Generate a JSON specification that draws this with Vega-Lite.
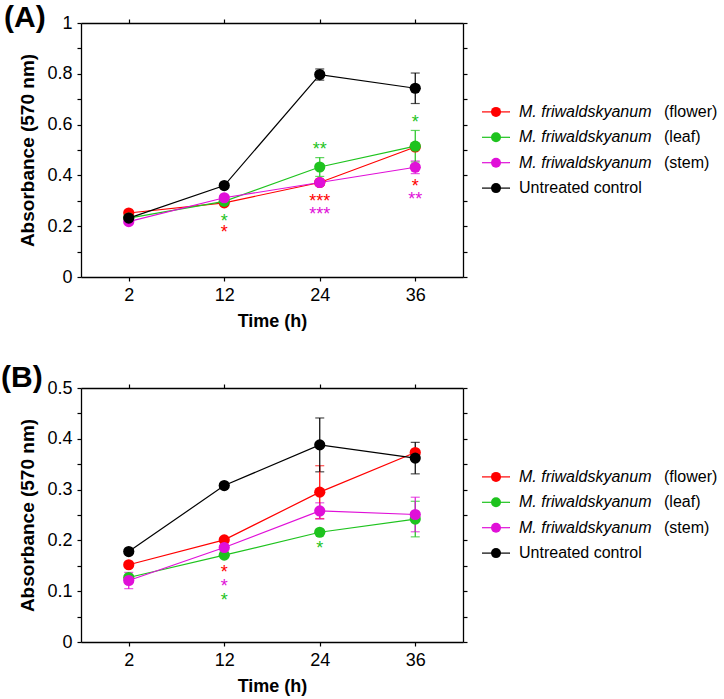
{
  "$schema": "https://vega.github.io/schema/vega-lite/v6.json",
  "padding": {"left": 0, "top": 3, "right": 0, "bottom": 4},
  "background": "white",
  "config": {
    "view": {"stroke": null},
    "font": "Liberation Sans",
    "axis": {
      "domainColor": "black", "domainWidth": 1.3,
      "tickColor": "black", "tickWidth": 1.2, "tickSize": 4,
      "labelFont": "Liberation Sans", "labelFontSize": 18, "labelColor": "black", "labelPadding": 5,
      "titleFont": "Liberation Sans", "titleFontSize": 18, "titleFontWeight": "bold", "titleColor": "black",
      "grid": false
    },
    "title": {"font": "Liberation Sans", "fontSize": 30, "fontWeight": "bold", "color": "black"}
  },
  "datasets": {
    "a": [
      {"time": 2, "series": "flower", "value": 0.252, "err": 0},
      {"time": 12, "series": "flower", "value": 0.292, "err": 0},
      {"time": 24, "series": "flower", "value": 0.372, "err": 0.01},
      {"time": 36, "series": "flower", "value": 0.512, "err": 0},
      {"time": 2, "series": "leaf", "value": 0.232, "err": 0},
      {"time": 12, "series": "leaf", "value": 0.298, "err": 0.01},
      {"time": 24, "series": "leaf", "value": 0.433, "err": 0.037},
      {"time": 36, "series": "leaf", "value": 0.515, "err": 0.062},
      {"time": 2, "series": "stem", "value": 0.218, "err": 0},
      {"time": 12, "series": "stem", "value": 0.312, "err": 0},
      {"time": 24, "series": "stem", "value": 0.372, "err": 0.01},
      {"time": 36, "series": "stem", "value": 0.432, "err": 0.025},
      {"time": 2, "series": "control", "value": 0.232, "err": 0},
      {"time": 12, "series": "control", "value": 0.36, "err": 0},
      {"time": 24, "series": "control", "value": 0.797, "err": 0.022},
      {"time": 36, "series": "control", "value": 0.743, "err": 0.06}
    ],
    "b": [
      {"time": 2, "series": "flower", "value": 0.152, "err": 0},
      {"time": 12, "series": "flower", "value": 0.201, "err": 0},
      {"time": 24, "series": "flower", "value": 0.295, "err": 0.052},
      {"time": 36, "series": "flower", "value": 0.373, "err": 0},
      {"time": 2, "series": "leaf", "value": 0.127, "err": 0},
      {"time": 12, "series": "leaf", "value": 0.171, "err": 0},
      {"time": 24, "series": "leaf", "value": 0.216, "err": 0},
      {"time": 36, "series": "leaf", "value": 0.242, "err": 0.035},
      {"time": 2, "series": "stem", "value": 0.121, "err": 0.016},
      {"time": 12, "series": "stem", "value": 0.186, "err": 0},
      {"time": 24, "series": "stem", "value": 0.258, "err": 0.016},
      {"time": 36, "series": "stem", "value": 0.251, "err": 0.034},
      {"time": 2, "series": "control", "value": 0.178, "err": 0},
      {"time": 12, "series": "control", "value": 0.308, "err": 0},
      {"time": 24, "series": "control", "value": 0.388, "err": 0.053},
      {"time": 36, "series": "control", "value": 0.362, "err": 0.031}
    ],
    "starsA": [
      {"time": 12, "series": "leaf", "y": 0.23, "label": "*"},
      {"time": 12, "series": "flower", "y": 0.184, "label": "*"},
      {"time": 24, "series": "leaf", "y": 0.512, "label": "**"},
      {"time": 24, "series": "flower", "y": 0.306, "label": "***"},
      {"time": 24, "series": "stem", "y": 0.256, "label": "***"},
      {"time": 36, "series": "leaf", "y": 0.617, "label": "*"},
      {"time": 36, "series": "flower", "y": 0.367, "label": "*"},
      {"time": 36, "series": "stem", "y": 0.315, "label": "**"}
    ],
    "starsB": [
      {"time": 12, "series": "flower", "y": 0.141, "label": "*"},
      {"time": 12, "series": "stem", "y": 0.114, "label": "*"},
      {"time": 12, "series": "leaf", "y": 0.087, "label": "*"},
      {"time": 24, "series": "leaf", "y": 0.188, "label": "*"}
    ],
    "legend": [
      {"series": "flower", "italic": "M. friwaldskyanum", "part": "(flower)", "plain": ""},
      {"series": "leaf", "italic": "M. friwaldskyanum", "part": "(leaf)", "plain": ""},
      {"series": "stem", "italic": "M. friwaldskyanum", "part": "(stem)", "plain": ""},
      {"series": "control", "italic": "", "part": "", "plain": "Untreated control"}
    ]
  },
  "vconcat": [
    {
      "hconcat": [
        {
          "width": 382,
          "height": 254,
          "title": {"text": "(A)", "anchor": "start", "frame": "bounds", "dx": -15, "offset": -43, "baseline": "alphabetic"},
          "resolve": {"axis": {"x": "independent", "y": "independent"}},
          "layer": [
            {
              "data": {"name": "a"},
              "mark": {"type": "line", "strokeWidth": 1.2},
              "encoding": {
                "x": {"field": "time", "type": "ordinal", "scale": {"type": "point", "padding": 0.5},
                  "axis": {"orient": "bottom", "title": "Time (h)", "labelAngle": 0, "titlePadding": 8}},
                "y": {"field": "value", "type": "quantitative", "scale": {"domain": [0, 1], "nice": false},
                  "axis": {"orient": "left", "title": "Absorbance (570 nm)", "titleFontSize": 19, "titlePadding": 9, "format": "~g",
                    "values": [0, 0.1, 0.2, 0.3, 0.4, 0.5, 0.6, 0.7, 0.8, 0.9, 1],
                    "labelExpr": "abs(datum.value * 5 - round(datum.value * 5)) < 0.001 ? datum.label : ''"}},
                "color": {"field": "series", "type": "nominal", "legend": null,
                  "scale": {"domain": ["flower", "leaf", "stem", "control"], "range": ["#ff0000", "#1ec31e", "#e010d8", "#000000"]}}
              }
            },
            {
              "data": {"name": "a"},
              "mark": {"type": "point", "opacity": 0},
              "encoding": {
                "x": {"field": "time", "type": "ordinal",
                  "axis": {"orient": "top", "title": null, "labels": false}},
                "y": {"field": "value", "type": "quantitative",
                  "axis": {"orient": "right", "title": null, "labels": false,
                    "values": [0, 0.1, 0.2, 0.3, 0.4, 0.5, 0.6, 0.7, 0.8, 0.9, 1]}}
              }
            },
            {
              "data": {"name": "a"},
              "transform": [{"filter": "datum.err > 0"}],
              "mark": {"type": "errorbar", "ticks": {"size": 9}, "thickness": 1.2},
              "encoding": {
                "x": {"field": "time", "type": "ordinal", "axis": null},
                "y": {"field": "value", "type": "quantitative", "axis": null},
                "yError": {"field": "err"},
                "color": {"field": "series", "type": "nominal", "legend": null}
              }
            },
            {
              "data": {"name": "a"},
              "mark": {"type": "circle", "size": 125, "opacity": 1},
              "encoding": {
                "x": {"field": "time", "type": "ordinal", "axis": null},
                "y": {"field": "value", "type": "quantitative", "axis": null},
                "color": {"field": "series", "type": "nominal", "legend": null}
              }
            },
            {
              "data": {"name": "starsA"},
              "mark": {"type": "text", "fontSize": 18, "baseline": "middle", "dy": 3},
              "encoding": {
                "x": {"field": "time", "type": "ordinal", "axis": null},
                "y": {"field": "y", "type": "quantitative", "axis": null},
                "text": {"field": "label"},
                "color": {"field": "series", "type": "nominal", "legend": null}
              }
            }
          ]
        },
        {
          "width": 236,
          "height": 254,
          "data": {"name": "legend"},
          "encoding": {
            "y": {"field": "series", "type": "nominal", "axis": null,
              "scale": {"type": "point", "padding": 0.5,
                "domain": ["pad1", "pad2", "pad3", "flower", "leaf", "stem", "control", "pad4", "pad5", "pad6"]}}
          },
          "layer": [
            {
              "mark": {"type": "rule", "strokeWidth": 1.2},
              "encoding": {
                "x": {"datum": 0, "type": "quantitative", "scale": {"domain": [0, 236], "nice": false}, "axis": null},
                "x2": {"datum": 28},
                "color": {"field": "series", "type": "nominal", "legend": null,
                  "scale": {"domain": ["flower", "leaf", "stem", "control"], "range": ["#ff0000", "#1ec31e", "#e010d8", "#000000"]}}
              }
            },
            {
              "mark": {"type": "circle", "size": 100, "opacity": 1},
              "encoding": {
                "x": {"datum": 14, "type": "quantitative"},
                "color": {"field": "series", "type": "nominal", "legend": null}
              }
            },
            {
              "mark": {"type": "text", "align": "left", "baseline": "middle", "fontSize": 16, "fontStyle": "italic", "color": "black"},
              "encoding": {"x": {"datum": 37, "type": "quantitative"}, "text": {"field": "italic"}}
            },
            {
              "mark": {"type": "text", "align": "left", "baseline": "middle", "fontSize": 16, "color": "black"},
              "encoding": {"x": {"datum": 182, "type": "quantitative"}, "text": {"field": "part"}}
            },
            {
              "mark": {"type": "text", "align": "left", "baseline": "middle", "fontSize": 16, "color": "black"},
              "encoding": {"x": {"datum": 37, "type": "quantitative"}, "text": {"field": "plain"}}
            }
          ]
        }
      ],
      "spacing": 13
    },
    {
      "hconcat": [
        {
          "width": 382,
          "height": 254,
          "title": {"text": "(B)", "anchor": "start", "frame": "bounds", "dx": -18, "offset": -38, "baseline": "alphabetic"},
          "resolve": {"axis": {"x": "independent", "y": "independent"}},
          "layer": [
            {
              "data": {"name": "b"},
              "mark": {"type": "line", "strokeWidth": 1.2},
              "encoding": {
                "x": {"field": "time", "type": "ordinal", "scale": {"type": "point", "padding": 0.5},
                  "axis": {"orient": "bottom", "title": "Time (h)", "labelAngle": 0, "titlePadding": 8}},
                "y": {"field": "value", "type": "quantitative", "scale": {"domain": [0, 0.5], "nice": false},
                  "axis": {"orient": "left", "title": "Absorbance (570 nm)", "titleFontSize": 19, "titlePadding": 9, "format": "~g",
                    "values": [0, 0.05, 0.1, 0.15, 0.2, 0.25, 0.3, 0.35, 0.4, 0.45, 0.5],
                    "labelExpr": "abs(datum.value * 10 - round(datum.value * 10)) < 0.001 ? datum.label : ''"}},
                "color": {"field": "series", "type": "nominal", "legend": null,
                  "scale": {"domain": ["flower", "leaf", "stem", "control"], "range": ["#ff0000", "#1ec31e", "#e010d8", "#000000"]}}
              }
            },
            {
              "data": {"name": "b"},
              "mark": {"type": "point", "opacity": 0},
              "encoding": {
                "x": {"field": "time", "type": "ordinal",
                  "axis": {"orient": "top", "title": null, "labels": false}},
                "y": {"field": "value", "type": "quantitative",
                  "axis": {"orient": "right", "title": null, "labels": false,
                    "values": [0, 0.05, 0.1, 0.15, 0.2, 0.25, 0.3, 0.35, 0.4, 0.45, 0.5]}}
              }
            },
            {
              "data": {"name": "b"},
              "transform": [{"filter": "datum.err > 0"}],
              "mark": {"type": "errorbar", "ticks": {"size": 9}, "thickness": 1.2},
              "encoding": {
                "x": {"field": "time", "type": "ordinal", "axis": null},
                "y": {"field": "value", "type": "quantitative", "axis": null},
                "yError": {"field": "err"},
                "color": {"field": "series", "type": "nominal", "legend": null}
              }
            },
            {
              "data": {"name": "b"},
              "mark": {"type": "circle", "size": 125, "opacity": 1},
              "encoding": {
                "x": {"field": "time", "type": "ordinal", "axis": null},
                "y": {"field": "value", "type": "quantitative", "axis": null},
                "color": {"field": "series", "type": "nominal", "legend": null}
              }
            },
            {
              "data": {"name": "starsB"},
              "mark": {"type": "text", "fontSize": 18, "baseline": "middle", "dy": 3},
              "encoding": {
                "x": {"field": "time", "type": "ordinal", "axis": null},
                "y": {"field": "y", "type": "quantitative", "axis": null},
                "text": {"field": "label"},
                "color": {"field": "series", "type": "nominal", "legend": null}
              }
            }
          ]
        },
        {
          "width": 236,
          "height": 254,
          "data": {"name": "legend"},
          "encoding": {
            "y": {"field": "series", "type": "nominal", "axis": null,
              "scale": {"type": "point", "padding": 0.5,
                "domain": ["pad1", "pad2", "pad3", "flower", "leaf", "stem", "control", "pad4", "pad5", "pad6"]}}
          },
          "layer": [
            {
              "mark": {"type": "rule", "strokeWidth": 1.2},
              "encoding": {
                "x": {"datum": 0, "type": "quantitative", "scale": {"domain": [0, 236], "nice": false}, "axis": null},
                "x2": {"datum": 28},
                "color": {"field": "series", "type": "nominal", "legend": null,
                  "scale": {"domain": ["flower", "leaf", "stem", "control"], "range": ["#ff0000", "#1ec31e", "#e010d8", "#000000"]}}
              }
            },
            {
              "mark": {"type": "circle", "size": 100, "opacity": 1},
              "encoding": {
                "x": {"datum": 14, "type": "quantitative"},
                "color": {"field": "series", "type": "nominal", "legend": null}
              }
            },
            {
              "mark": {"type": "text", "align": "left", "baseline": "middle", "fontSize": 16, "fontStyle": "italic", "color": "black"},
              "encoding": {"x": {"datum": 37, "type": "quantitative"}, "text": {"field": "italic"}}
            },
            {
              "mark": {"type": "text", "align": "left", "baseline": "middle", "fontSize": 16, "color": "black"},
              "encoding": {"x": {"datum": 182, "type": "quantitative"}, "text": {"field": "part"}}
            },
            {
              "mark": {"type": "text", "align": "left", "baseline": "middle", "fontSize": 16, "color": "black"},
              "encoding": {"x": {"datum": 37, "type": "quantitative"}, "text": {"field": "plain"}}
            }
          ]
        }
      ],
      "spacing": 13
    }
  ],
  "spacing": 33
}
